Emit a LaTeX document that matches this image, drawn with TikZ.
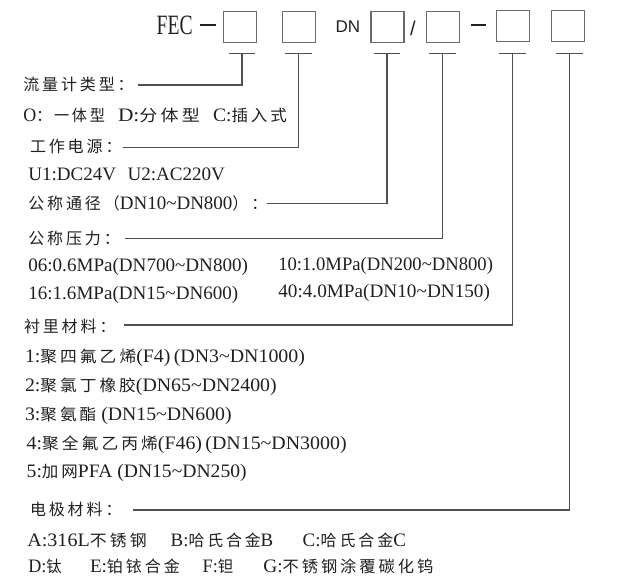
\documentclass[tikz,border=0pt]{standalone}
\usepackage{graphicx}
\usepackage{fontspec}
\setmainfont{Liberation Serif}
\newfontfamily\zhf[LetterSpace=18]{Noto Sans CJK SC}
\newfontfamily\snf{Liberation Sans}
\definecolor{ink}{HTML}{231F20}
\definecolor{boxc}{HTML}{6A6A6A}
\definecolor{linec}{HTML}{505050}
\newcommand\lat{\fontsize{19}{22}\selectfont}
\newcommand\zh[1]{{\zhf\fontsize{16}{19}\selectfont #1}}
\newcommand\fitw[2]{\resizebox{#1pt}{\height}{#2}}
\newcommand\tld{\textasciitilde}
\begin{document}
\begin{tikzpicture}[x=1pt,y=-1pt,
  lbl/.style={anchor=base west,inner sep=0pt,outer sep=0pt,text=ink,font=\lat},
  codebox/.style={draw=boxc,line width=1.1pt,minimum width=33pt,minimum height=31pt,inner sep=0pt},
  conn/.style={draw=linec,line width=1.1pt},
  tbar/.style={draw=linec,line width=1.1pt}]
\useasboundingbox (0,0) rectangle (620,585);
% ---- header ----
\node[lbl] (fec) at (156.7,35) {\fontsize{28}{30}\selectfont\scalebox{0.7}[1]{FEC}};
\node[anchor=west,inner sep=0pt] (dash1) at (199.3,25) {\color{ink}\rule{16pt}{1.1pt}};
\node[codebox] (b1) at (240.3,27.2) {};
\node[codebox] (b2) at (299.3,27.2) {};
\node[lbl,font=\snf\fontsize{17}{20}\selectfont] (dn) at (335.7,32.7) {DN};
\node[codebox] (b3) at (387.5,27.2) {};
\node[lbl,font=\snf\fontsize{20}{22}\selectfont] (slash) at (410,36) {/};
\node[codebox] (b4) at (443.3,27.2) {};
\node[anchor=west,inner sep=0pt] (dash2) at (470.7,25) {\color{ink}\rule{15.3pt}{1.1pt}};
\node[codebox] (b5) at (512.7,26.2) {};
\node[codebox] (b6) at (568.2,26.2) {};
% T junctions
\coordinate (t1) at (242,53.3);
\coordinate (t2) at (298.7,53.3);
\coordinate (t3) at (387,53.3);
\coordinate (t4) at (442.3,53.3);
\coordinate (t5) at (512.7,53.3);
\coordinate (t6) at (569.3,53.3);
\foreach \t in {t1,t2,t3,t4,t5,t6}{
  \draw[tbar] ([xshift=-13.3pt]\t) -- ([xshift=13.3pt]\t);}
% line starts
\coordinate (s1) at (138.3,85);
\coordinate (s2) at (123.3,147.3);
\coordinate (s3) at (266.7,203.3);
\coordinate (s4) at (125,238.3);
\coordinate (s5) at (124,325);
\coordinate (s6) at (132.7,510);
\draw[conn] (s1) -| (t1);
\draw[conn] (s2) -| (t2);
\draw[conn] (s3) -| (t3);
\draw[conn] (s4) -| (t4);
\draw[conn] (s5) -| (t5);
\draw[conn] (s6) -| (t6);
% ---- labels ----
\node[lbl] (l1) at (23.3,90.8) {\zh{流量计类型：}};
\node[lbl] (o1) at (23.3,121.7) {\fitw{81.7}{O\zh{：一体型}}};
\node[lbl] (o2) at (118,121.7) {\fitw{82}{D:\zh{分体型}}};
\node[lbl] (o3) at (213,121.7) {\fitw{74}{C:\zh{插入式}}};
\node[lbl] (l2) at (30,153) {\zh{工作电源：}};
\node[lbl] (u) at (28.3,180.7) {\fitw{196.7}{U1:DC24V\hspace{0.6em}U2:AC220V}};
\node[lbl] (l3) at (28.3,210) {\zh{公称通径（}DN10\tld DN800\zh{）：}};
\node[lbl] (l4) at (28.3,244) {\zh{公称压力：}};
\node[lbl] (p1) at (28.3,271) {\fitw{219.7}{06:0.6MPa(DN700\tld DN800)}};
\node[lbl] (p2) at (278.3,270) {\fitw{214.7}{10:1.0MPa(DN200\tld DN800)}};
\node[lbl] (p3) at (28.3,299.3) {\fitw{210}{16:1.6MPa(DN15\tld DN600)}};
\node[lbl] (p4) at (278.3,297.7) {\fitw{211.7}{40:4.0MPa(DN10\tld DN150)}};
\node[lbl] (l5) at (24,332.5) {\zh{衬里材料：}};
\node[lbl] (m1) at (25,362) {\fitw{280}{1:\zh{聚四氟乙烯}(F4)\,(DN3\tld DN1000)}};
\node[lbl] (m2) at (25,391) {\fitw{251.7}{2:\zh{聚氯丁橡胶}(DN65\tld DN2400)}};
\node[lbl] (m3) at (25,420) {\fitw{206.7}{3:\zh{聚氨酯} (DN15\tld DN600)}};
\node[lbl] (m4) at (26.7,449) {\fitw{320}{4:\zh{聚全氟乙丙烯}(F46)\,(DN15\tld DN3000)}};
\node[lbl] (m5) at (26.7,477) {\fitw{220}{5:\zh{加网}PFA (DN15\tld DN250)}};
\node[lbl] (l6) at (30,515.5) {\zh{电极材料：}};
\node[lbl] (ea) at (27.3,546) {\fitw{119.4}{A:316L\zh{不锈钢}}};
\node[lbl] (eb) at (170.7,546) {\fitw{102.6}{B:\zh{哈氏合金}B}};
\node[lbl] (ec) at (302.7,546) {\fitw{103.3}{C:\zh{哈氏合金}C}};
\node[lbl] (ed) at (28.3,572) {\fitw{33.4}{D:\zh{钛}}};
\node[lbl] (ee) at (90,572) {\fitw{90}{E:\zh{铂铱合金}}};
\node[lbl] (ef) at (202.7,572) {\fitw{30.6}{F:\zh{钽}}};
\node[lbl] (eg) at (263.3,572) {\fitw{170}{G:\zh{不锈钢涂覆碳化钨}}};
\end{tikzpicture}
\end{document}
